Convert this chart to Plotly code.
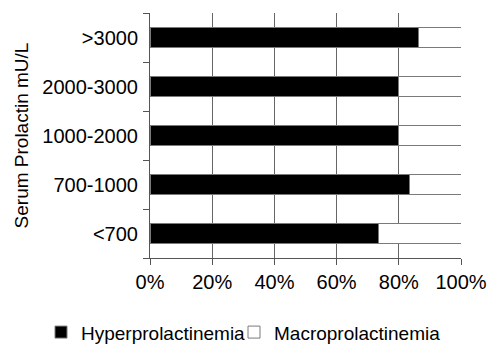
import plotly.graph_objects as go

categories = ["<700", "700-1000", "1000-2000", "2000-3000", ">3000"]
hyper = [73.5, 83.5, 80.0, 80.0, 86.3]
macro = [round(100 - v, 1) for v in hyper]
x_ticks = [0, 20, 40, 60, 80, 100]
x_tick_labels = ["0%", "20%", "40%", "60%", "80%", "100%"]

font = "Liberation Sans, Arial, sans-serif"
fig = go.Figure()
fig.add_trace(go.Bar(y=categories, x=hyper, orientation="h", name="Hyperprolactinemia",
                     marker=dict(color="black", line=dict(color="#7a7a7a", width=1)),
                     legend="legend", showlegend=True))
fig.add_trace(go.Bar(y=categories, x=macro, orientation="h", name="Macroprolactinemia",
                     marker=dict(color="white", line=dict(color="#7a7a7a", width=1)),
                     legend="legend2", showlegend=True))

legend_common = dict(orientation="h", xref="paper", yref="paper", y=-0.303,
                     xanchor="left", yanchor="middle", font=dict(size=19),
                     itemwidth=30, borderwidth=0, bgcolor="rgba(0,0,0,0)")

fig.update_layout(
    width=487, height=344, barmode="stack", bargap=0.6, showlegend=True,
    margin=dict(l=150, r=26, t=13, b=86, autoexpand=False),
    plot_bgcolor="white", paper_bgcolor="white",
    font=dict(family=font, size=20, color="black"),
    legend=dict(x=(41 - 150) / 311, **legend_common),
    legend2=dict(x=(234 - 150) / 311, **legend_common),
    xaxis=dict(range=[0, 100], tickvals=x_ticks, ticktext=x_tick_labels, showgrid=True,
               gridcolor="#666666", gridwidth=1, showline=True, linecolor="#555555",
               ticks="outside", ticklen=6, tickcolor="#555555", zeroline=False,
               tickfont=dict(size=20), automargin=False),
    yaxis=dict(categoryorder="array", categoryarray=categories, tickson="boundaries",
               showgrid=False, showline=True, linecolor="#555555", ticks="outside",
               ticklen=6, tickcolor="#555555", automargin=False, ticklabelstandoff=7,
               title=dict(text="Serum Prolactin mU/L", font=dict(size=19), standoff=8),
               tickfont=dict(size=20)),
)
fig.write_html("out.html", config={"displayModeBar": False},
               post_script="document.body.style.margin='0';")
